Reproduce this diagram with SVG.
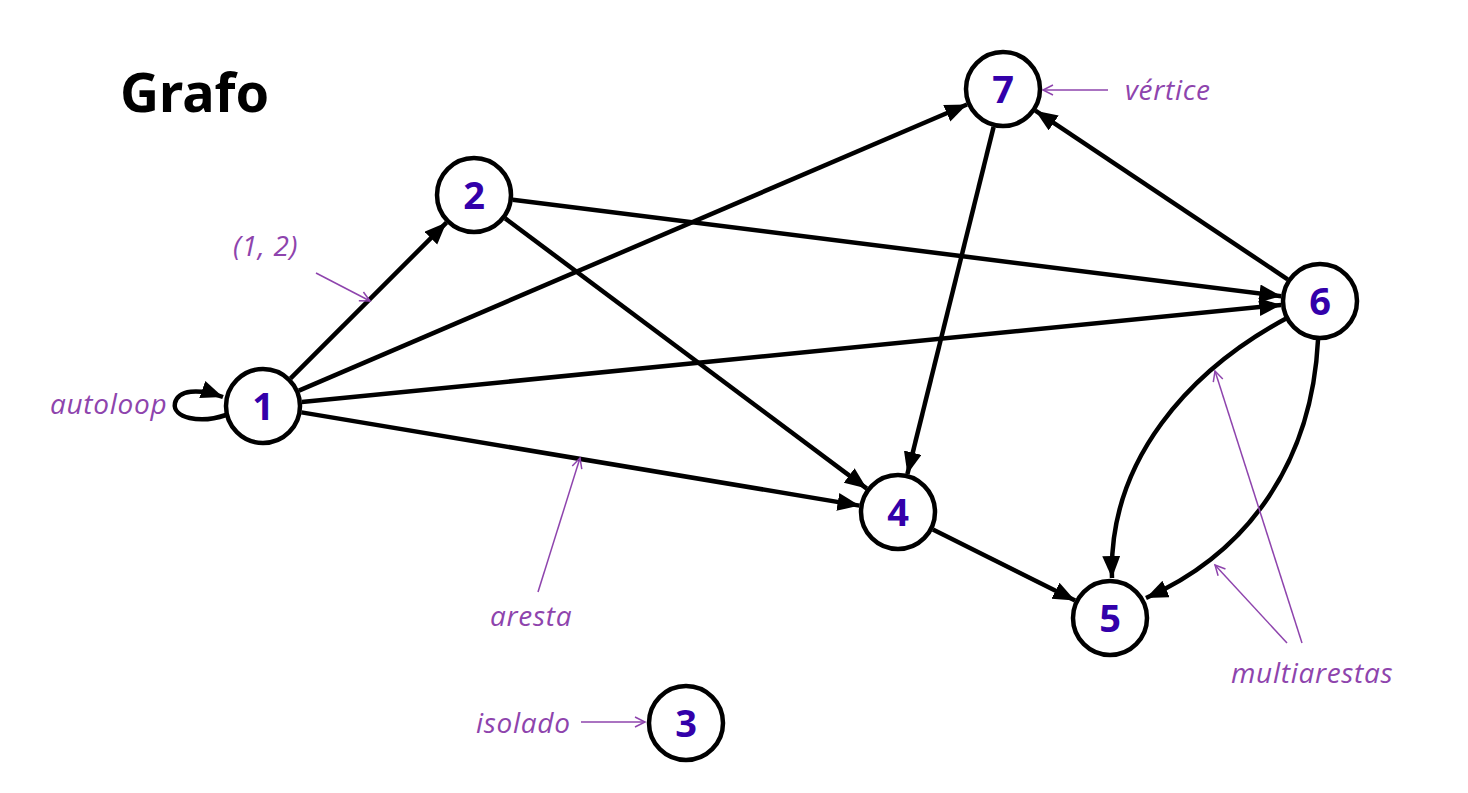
<svg xmlns="http://www.w3.org/2000/svg" width="1468" height="793" viewBox="0 0 1468 793">
<style>
.node circle{fill:#fff;stroke:#000;stroke-width:4.5}
.node text{font-family:"Noto Sans",sans-serif;font-weight:bold;font-size:38px;fill:#3300aa;text-anchor:middle}
.edge{fill:none;stroke:#000;stroke-width:4.5;marker-end:url(#ah)}
.ann{fill:none;stroke:#8e44ad;stroke-width:1.5;marker-end:url(#oh)}
.lbl{font-family:"Open Sans",sans-serif;font-style:italic;font-size:28px;letter-spacing:0.7px;fill:#8e44ad}
.title{font-family:"Noto Sans",sans-serif;font-weight:bold;font-size:54px;fill:#000}
</style>
<defs>
<marker id="ah" markerUnits="userSpaceOnUse" markerWidth="24" markerHeight="20" refX="22" refY="9" orient="auto" viewBox="0 0 24 20">
<path d="M0,0 L22,9 L0,18 Z" fill="#000"/>
</marker>
<marker id="oh" markerUnits="userSpaceOnUse" markerWidth="14" markerHeight="14" refX="11" refY="6" orient="auto" viewBox="0 0 14 14">
<path d="M1,1 L11,6 L1,11" fill="none" stroke="#8e44ad" stroke-width="1.5"/>
</marker>
</defs>
<rect width="1468" height="793" fill="#fff"/>
<text class="title" x="120" y="112">Grafo</text>
<g id="connectors">
<path class="edge" d="M290.6,378.4 L446.4,222.6"/>
<path class="edge" d="M298.9,390.6 L967,104.5"/>
<path class="edge" d="M301.8,402.1 L1281.2,304.9"/>
<path class="edge" d="M301.5,412.4 L859.5,505.6"/>
<path class="edge" d="M512.7,199.8 L1281.3,296.2"/>
<path class="edge" d="M505.2,218.4 L866.8,488.6"/>
<path class="edge" d="M993.6,126.9 L907.4,474.1"/>
<path class="edge" d="M1287.6,279.3 L1035.4,110.7"/>
<path class="edge" d="M932.9,529.4 L1075.1,600.6"/>
<path class="edge" d="M1287,318 C1190,370 1108,460 1112,578"/>
<path class="edge" d="M1318,340 C1312,460 1250,552 1146,598"/>
<path class="edge" d="M226,415 C200,424 172,418 175,403 C178,390 198,388 223,397"/>
</g>
<g id="annotations">
<text class="lbl" x="50" y="414">autoloop</text>
<text class="lbl" x="233" y="256">(1, 2)</text>
<path class="ann" d="M316,273 L370,301"/>
<text class="lbl" x="1125" y="100">vértice</text>
<path class="ann" d="M1108,90 L1043,90"/>
<text class="lbl" x="490" y="626">aresta</text>
<path class="ann" d="M538,592 L580,458"/>
<text class="lbl" x="476" y="733">isolado</text>
<path class="ann" d="M581,722 L645,722"/>
<text class="lbl" x="1231" y="683">multiarestas</text>
<path class="ann" d="M1302,643 L1215,371"/>
<path class="ann" d="M1287,643 L1215,565"/>
</g>
<g id="n1" class="node"><circle cx="263" cy="406" r="37"/><text x="263" y="420">1</text></g>
<g id="n2" class="node"><circle cx="474" cy="195" r="37"/><text x="474" y="209">2</text></g>
<g id="n3" class="node"><circle cx="686" cy="723" r="37"/><text x="686" y="737">3</text></g>
<g id="n4" class="node"><circle cx="898" cy="512" r="37"/><text x="898" y="526">4</text></g>
<g id="n5" class="node"><circle cx="1110" cy="618" r="37"/><text x="1110" y="632">5</text></g>
<g id="n6" class="node"><circle cx="1320" cy="301" r="37"/><text x="1320" y="315">6</text></g>
<g id="n7" class="node"><circle cx="1003" cy="89" r="37"/><text x="1003" y="103">7</text></g>
</svg>
